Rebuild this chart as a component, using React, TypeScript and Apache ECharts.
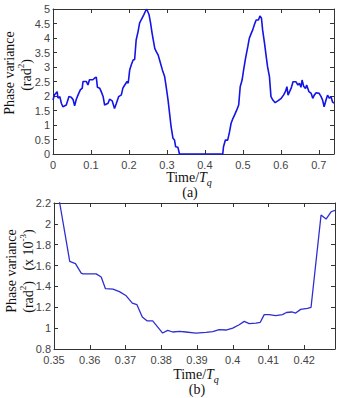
import React, { useEffect, useRef } from "react";
import * as echarts from "echarts";

// Panel (a): phase variance over one cycle
const timeA = [
  0, 0.004, 0.011, 0.013, 0.018, 0.022, 0.026, 0.035, 0.042, 0.048, 0.053, 0.057, 0.061, 0.066,
  0.072, 0.077, 0.079, 0.088, 0.092, 0.096, 0.105, 0.11, 0.114, 0.117, 0.123, 0.127, 0.132,
  0.136, 0.145, 0.149, 0.156, 0.162, 0.167, 0.173, 0.18, 0.184, 0.189, 0.195, 0.198, 0.202,
  0.206, 0.211, 0.215, 0.219, 0.224, 0.228, 0.232, 0.239, 0.244, 0.247, 0.253, 0.257, 0.261,
  0.268, 0.272, 0.277, 0.282, 0.288, 0.294, 0.298, 0.303, 0.307, 0.311, 0.316, 0.32, 0.323,
  0.329, 0.333, 0.447, 0.449, 0.454, 0.46, 0.465, 0.469, 0.474, 0.478, 0.484, 0.489, 0.493,
  0.498, 0.502, 0.507, 0.513, 0.517, 0.522, 0.526, 0.53, 0.535, 0.541, 0.545, 0.549, 0.552,
  0.557, 0.561, 0.565, 0.57, 0.574, 0.579, 0.585, 0.592, 0.601, 0.607, 0.612, 0.616, 0.619,
  0.623, 0.627, 0.632, 0.64, 0.645, 0.649, 0.653, 0.656, 0.66, 0.665, 0.668, 0.674, 0.68,
  0.684, 0.688, 0.693, 0.701, 0.706, 0.71, 0.714, 0.719, 0.723, 0.728, 0.732, 0.736, 0.74,
];
const varianceA = [
  1.86, 2.04, 2.15, 1.93, 1.98, 1.75, 1.63, 1.69, 1.98, 1.96, 1.87, 1.66, 1.87, 2.04,
  2.21, 2.27, 2.5, 2.5, 2.38, 2.56, 2.56, 2.62, 2.65, 2.3, 2.27, 2.15, 1.98,
  1.69, 1.75, 1.89, 1.83, 1.57, 1.75, 1.98, 2.04, 2.27, 2.38, 2.5, 2.44, 2.9,
  3.07, 3.24, 3.26, 3.93, 4.22, 4.51, 4.62, 4.8, 4.94, 4.99, 4.8, 4.51, 4.16,
  3.64, 3.53, 3.41, 3.18, 2.9, 2.67, 2.32, 1.86, 1.4, 0.94, 0.54, 0.48, 0.25,
  0.23, 0, 0, 0.25, 0.48, 0.48, 0.77, 1.06, 1.23, 1.34, 1.52, 1.69, 2.32,
  2.55, 2.9, 3.3, 3.7, 3.99, 4.16, 4.28, 4.45, 4.62, 4.62, 4.76, 4.68, 4.28,
  3.82, 3.41, 3.01, 2.67, 1.98, 1.86, 1.77, 1.83, 1.92, 2.03, 2.15, 2.32, 2.03,
  2.15, 2.26, 2.49, 2.49, 2.38, 2.44, 2.3, 2.55, 2.34, 2.26, 2.38, 2.15, 2.09,
  1.92, 2.03, 2.11, 2.09, 1.98, 1.86, 1.63, 1.86, 2.03, 1.92, 1.98, 1.8, 1.75,
];

// Panel (b): close-up of the low-variance interval (x 10^-3 rad^2)
const timeB = [
  0.35, 0.3516, 0.3544, 0.356, 0.3576, 0.3581, 0.3618, 0.3632, 0.3644, 0.3665, 0.3683, 0.3702,
  0.3719, 0.3732, 0.3747, 0.376, 0.3776, 0.3804, 0.3818, 0.3832, 0.3851, 0.3869, 0.3897,
  0.3925, 0.3944, 0.3962, 0.3981, 0.4, 0.4018, 0.4032, 0.4046, 0.4065, 0.4077, 0.4088,
  0.4102, 0.412, 0.4139, 0.415, 0.4165, 0.4176, 0.419, 0.4209, 0.4219, 0.4247, 0.4261,
  0.4275, 0.4286,
];
const varianceB = [
  2.45, 2.2, 1.64, 1.618, 1.528, 1.52, 1.52, 1.49, 1.378, 1.375, 1.35, 1.31,
  1.24, 1.225, 1.107, 1.07, 1.07, 0.953, 0.979, 0.963, 0.969, 0.963, 0.953,
  0.96, 0.966, 0.985, 0.982, 1.0, 1.033, 1.065, 1.043, 1.049, 1.056, 1.13,
  1.13, 1.12, 1.13, 1.15, 1.155, 1.145, 1.18, 1.19, 1.2, 2.085, 2.046,
  2.116, 2.13,
];

const yTicksA = { min: 0, max: 5, interval: 0.5 };
const xTicksA = { min: 0, max: 0.74, interval: 0.1 };
const yTicksB = { min: 0.8, max: 2.2, interval: 0.2 };
const xTicksB = { min: 0.35, max: 0.4286, interval: 0.01 };

const SERIF = "'Liberation Serif', 'Times New Roman', serif";
const SANS = "'Liberation Sans', Arial, sans-serif";
const AXIS = "#333333";

function pair(xs: number[], ys: number[]) {
  return xs.map((x, i) => [x, ys[i]]);
}

function mainXAxis(grid: number, t: { min: number; max: number; interval: number }) {
  return {
    type: "value",
    gridIndex: grid,
    position: "bottom",
    ...t,
    axisLine: { show: true, onZero: false, lineStyle: { color: AXIS, width: 1 } },
    axisTick: { show: true, inside: true, length: 4, lineStyle: { color: AXIS } },
    axisLabel: {
      show: true,
      showMaxLabel: false,
      margin: 5,
      fontFamily: SANS,
      fontSize: 11,
      color: "#444",
    },
    splitLine: { show: false },
  };
}
function frameXAxis(grid: number, t: { min: number; max: number; interval: number }) {
  return {
    type: "value",
    gridIndex: grid,
    position: "top",
    ...t,
    axisLine: { show: true, onZero: false, lineStyle: { color: AXIS, width: 1 } },
    axisTick: { show: true, inside: true, length: 4, lineStyle: { color: AXIS } },
    axisLabel: { show: false },
    splitLine: { show: false },
  };
}
function mainYAxis(grid: number, t: { min: number; max: number; interval: number }) {
  return {
    type: "value",
    gridIndex: grid,
    position: "left",
    ...t,
    axisLine: { show: true, onZero: false, lineStyle: { color: AXIS, width: 1 } },
    axisTick: { show: true, inside: true, length: 4, lineStyle: { color: AXIS } },
    axisLabel: { show: true, margin: 3, fontFamily: SANS, fontSize: 11, color: "#444" },
    splitLine: { show: false },
  };
}
function frameYAxis(grid: number, t: { min: number; max: number; interval: number }) {
  return {
    type: "value",
    gridIndex: grid,
    position: "right",
    ...t,
    axisLine: { show: true, onZero: false, lineStyle: { color: AXIS, width: 1 } },
    axisTick: { show: true, inside: true, length: 4, lineStyle: { color: AXIS } },
    axisLabel: { show: false },
    splitLine: { show: false },
  };
}

const baseRich = {
  a: { fontFamily: SERIF, fontSize: 14, lineHeight: 20, fill: "#111" },
  i: { fontFamily: SERIF, fontSize: 14, lineHeight: 20, fontStyle: "italic", fill: "#111" },
  sub: {
    fontFamily: SERIF,
    fontSize: 10,
    lineHeight: 10,
    fontStyle: "italic",
    verticalAlign: "bottom",
    fill: "#111",
  },
  sup: { fontFamily: SERIF, fontSize: 9, lineHeight: 9, verticalAlign: "top", fill: "#111" },
};

function label(x: number, y: number, text: string, rotated = false) {
  return {
    type: "text",
    x,
    y,
    rotation: rotated ? Math.PI / 2 : 0,
    silent: true,
    style: {
      text,
      rich: baseRich,
      fontFamily: SERIF,
      fontSize: 14,
      fill: "#111",
      align: "center",
      verticalAlign: "middle",
    },
  };
}

export default function App() {
  const ref = useRef<HTMLDivElement>(null);

  useEffect(() => {
    if (!ref.current) return;
    const chart = echarts.init(ref.current, undefined, { renderer: "svg" });
    chart.setOption({
      animation: false,
      backgroundColor: "#ffffff",
      grid: [
        { left: 53, right: 7, top: 9, height: 145 },
        { left: 54, right: 6, top: 203, height: 146 },
      ],
      xAxis: [
        mainXAxis(0, xTicksA),
        frameXAxis(0, xTicksA),
        mainXAxis(1, xTicksB),
        frameXAxis(1, xTicksB),
      ],
      yAxis: [
        mainYAxis(0, yTicksA),
        frameYAxis(0, yTicksA),
        mainYAxis(1, yTicksB),
        frameYAxis(1, yTicksB),
      ],
      series: [
        {
          type: "line",
          xAxisIndex: 0,
          yAxisIndex: 0,
          data: pair(timeA, varianceA),
          showSymbol: false,
          symbol: "none",
          clip: true,
          lineStyle: { color: "#1414e6", width: 1.6 },
        },
        {
          type: "line",
          xAxisIndex: 2,
          yAxisIndex: 2,
          data: pair(timeB, varianceB),
          showSymbol: false,
          symbol: "none",
          clip: true,
          lineStyle: { color: "#2e2ed2", width: 1.3 },
        },
      ],
      graphic: [
        label(189, 177, "{a|Time/}{i|T}{sub|q}"),
        label(190, 192, "{a|(a)}"),
        label(9, 73, "{a|Phase variance}", true),
        label(26, 75, "{a|(rad}{sup|2}{a|)}", true),
        label(196, 374, "{a|Time/}{i|T}{sub|q}"),
        label(197, 389, "{a|(b)}"),
        label(11, 271, "{a|Phase variance}", true),
        label(28, 271, "{a|(rad}{sup|2}{a|)   (x 10}{sup|-3}{a|)}", true),
      ],
    });
    return () => chart.dispose();
  }, []);

  return (
    <div
      ref={ref}
      style={{ position: "fixed", left: 0, top: 0, width: 341, height: 398, background: "#fff" }}
    />
  );
}
